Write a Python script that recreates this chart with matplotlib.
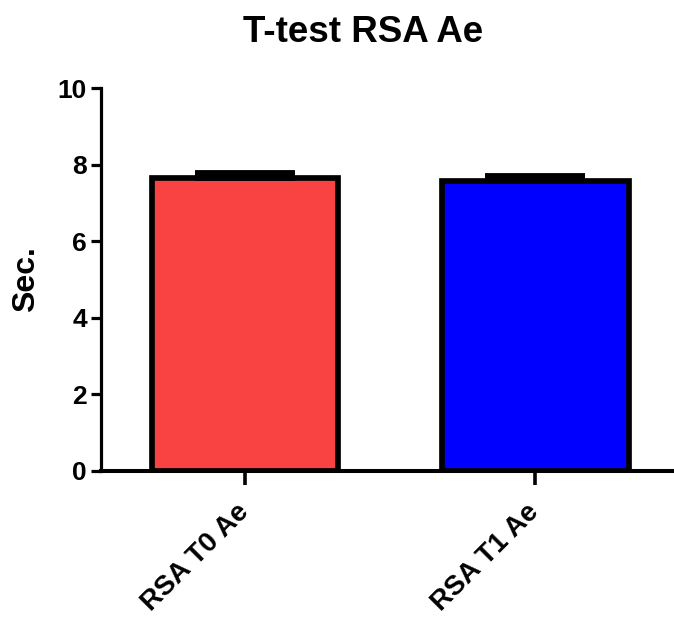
import numpy as np
import matplotlib
matplotlib.use("Agg")
import matplotlib.pyplot as plt

# data
groups = ["RSA T0 Ae", "RSA T1 Ae"]
means = [7.66, 7.57]
sem = [0.12, 0.12]
bar_colors = ["#F94343", "#0000FF"]
y_ticks = [0, 2, 4, 6, 8, 10]

plt.rcParams["font.family"] = ["Liberation Sans", "DejaVu Sans"]
plt.rcParams["font.weight"] = "bold"

W, H = 674, 623
fig = plt.figure(figsize=(W / 100, H / 100), dpi=100)
ax = fig.add_axes([101 / W, 1 - 471 / H, (673 - 101) / W, (471 - 88) / H])

x = np.arange(len(groups))
ax.bar(x, means, width=0.642, color=bar_colors, edgecolor="black",
       linewidth=4.1, zorder=2)
# upper error only, Prism style
ax.errorbar(x, means, yerr=[np.zeros(len(sem)), sem], fmt="none",
            ecolor="black", elinewidth=4, capsize=36, capthick=4.2,
            zorder=3)

ax.set_xlim(-0.497, 1.474)
ax.set_ylim(0, 10)
ax.set_yticks(y_ticks)
ax.set_yticklabels([str(t) for t in y_ticks], fontsize=19, fontweight="bold")
ax.set_xticks(x)
ax.set_xticklabels(groups, fontsize=20, fontweight="bold", rotation=45,
                   ha="right", va="center", rotation_mode="anchor")

for side in ["top", "right"]:
    ax.spines[side].set_visible(False)
ax.spines["left"].set_linewidth(2.3)
ax.spines["bottom"].set_linewidth(2.9)

ax.tick_params(axis="y", length=7, width=2.3, pad=3)
ax.tick_params(axis="x", length=10, width=2.6, pad=17)

fig.text(26 / W, 1 - 279 / H, "Sec.", rotation=90, fontsize=23,
         fontweight="bold", ha="center", va="center")
fig.text(363.5 / W, 1 - 42 / H, "T-test RSA Ae", fontsize=26.5,
         fontweight="bold", ha="center", va="baseline")

fig.savefig("out.png", dpi=100)
